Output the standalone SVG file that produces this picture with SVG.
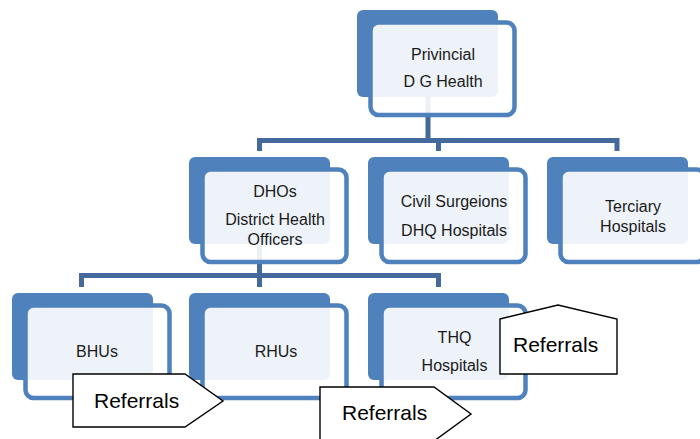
<svg xmlns="http://www.w3.org/2000/svg" width="700" height="439" viewBox="0 0 700 439">
<style>
.back{fill:#4F81BD}
.front{fill:#FFFFFF;fill-opacity:0.9;stroke:#4F81BD;stroke-width:4.5}
.lbl{font-family:"Liberation Sans",Arial,sans-serif;font-size:16px;fill:#1a1a1a;text-anchor:middle}
.conn{fill:none;stroke:#44699C;stroke-width:5}
.call{fill:#FFFFFF;stroke:#000000;stroke-width:1.4}
.clbl{font-family:"Liberation Sans",Arial,sans-serif;font-size:21px;fill:#000000}
</style>
<rect width="700" height="439" fill="#FFFFFF"/>
<g id="connectors">
<path class="conn" d="M428,97 V140.5 M259.5,151 V140.5 H617 V151 M438.5,140.5 V151"/>
<path class="conn" d="M259.5,243 V275.5 M81.5,287 V275.5 H438.5 V287 M259.5,275.5 V287"/>
</g>
<g id="node-provincial">
<rect class="back" x="357" y="10" width="141" height="87" rx="6"/>
<rect class="front" x="370.5" y="22.5" width="144" height="92.5" rx="8"/>
<text class="lbl" x="443" y="60">Privincial</text>
<text class="lbl" x="443" y="87">D G Health</text>
</g>
<g id="node-dhos">
<rect class="back" x="189" y="157" width="141" height="87" rx="6"/>
<rect class="front" x="202.5" y="169.5" width="144" height="92.5" rx="8"/>
<text class="lbl" x="275" y="197">DHOs</text>
<text class="lbl" x="275" y="225">District Health</text>
<text class="lbl" x="275" y="245">Officers</text>
</g>
<g id="node-civil">
<rect class="back" x="368" y="157" width="141" height="87" rx="6"/>
<rect class="front" x="381.5" y="169.5" width="144" height="92.5" rx="8"/>
<text class="lbl" x="454" y="207">Civil Surgeions</text>
<text class="lbl" x="454" y="236">DHQ Hospitals</text>
</g>
<g id="node-terciary">
<rect class="back" x="547" y="157" width="141" height="87" rx="6"/>
<rect class="front" x="560.5" y="169.5" width="144" height="92.5" rx="8"/>
<text class="lbl" x="633" y="212">Terciary</text>
<text class="lbl" x="633" y="232">Hospitals</text>
</g>
<g id="node-bhus">
<rect class="back" x="12" y="293" width="141" height="87" rx="6"/>
<rect class="front" x="25.5" y="305.5" width="144" height="92.5" rx="8"/>
<text class="lbl" x="97" y="357">BHUs</text>
</g>
<g id="node-rhus">
<rect class="back" x="189" y="293" width="141" height="87" rx="6"/>
<rect class="front" x="202.5" y="305.5" width="144" height="92.5" rx="8"/>
<text class="lbl" x="276" y="357">RHUs</text>
</g>
<g id="node-thq">
<rect class="back" x="368" y="293" width="141" height="87" rx="6"/>
<rect class="front" x="381.5" y="305.5" width="144" height="92.5" rx="8"/>
<text class="lbl" x="454.5" y="343">THQ</text>
<text class="lbl" x="454.5" y="371">Hospitals</text>
</g>
<g id="callout-referrals-1">
<path class="call" d="M73,374 H185 L223,401 L185,427 H73 Z"/>
<text class="clbl" x="94" y="408">Referrals</text>
</g>
<g id="callout-referrals-2">
<path class="call" d="M320,387 H434 L471,414 L434,441 H320 Z"/>
<text class="clbl" x="342" y="420">Referrals</text>
</g>
<g id="callout-referrals-3">
<path class="call" d="M500,319 L558,305 L617,319 V374 H500 Z"/>
<text class="clbl" x="513" y="352">Referrals</text>
</g>
</svg>
